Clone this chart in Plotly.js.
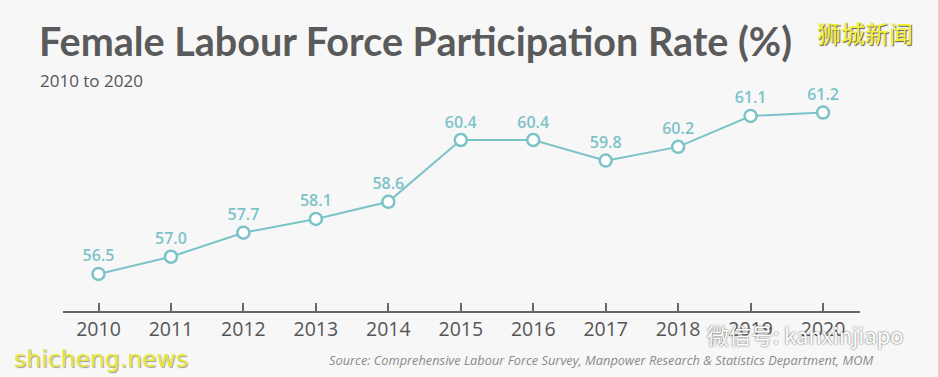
<!DOCTYPE html>
<html><head><meta charset="utf-8">
<script src="https://cdn.plot.ly/plotly-3.0.1.min.js"></script>
<style>html,body{margin:0;padding:0;background:#f7f7f8;}#chart{width:938px;height:377px;}</style>
</head><body><div id="chart"></div>
<script>
const years = [2010, 2011, 2012, 2013, 2014, 2015, 2016, 2017, 2018, 2019, 2020];
const rates = [56.5, 57.0, 57.7, 58.1, 58.6, 60.4, 60.4, 59.8, 60.2, 61.1, 61.2];
const tickLabels = years.map(String);
const titleText = "Female Labour Force Participation Rate (%)";
const subtitleText = "2010 to 2020";
const sourceText = "Source: Comprehensive Labour Force Survey, Manpower Research & Statistics Department, MOM";

const teal = "#7cc3c7";
const trace = {
  x: years, y: rates, type: "scatter", mode: "lines+markers+text",
  line: {color: teal, width: 2},
  marker: {symbol: "circle", size: 12, color: "#ffffff", line: {color: teal, width: 2.5}},
  text: rates.map(v => v.toFixed(1)), textposition: "top center",
  textfont: {family: "Open Sans, sans-serif", size: 16, color: teal, weight: 600},
  cliponaxis: false, hoverinfo: "skip"
};
const layout = {
  width: 938, height: 377,
  paper_bgcolor: "#f7f7f8", plot_bgcolor: "#f7f7f8",
  margin: {l: 63, r: 78, t: 60, b: 66},
  showlegend: false,
  xaxis: {range: [2009.51, 2020.51], tickvals: years, ticktext: tickLabels,
    ticks: "inside", ticklen: 8, tickwidth: 2, tickcolor: "#666",
    showline: true, linecolor: "#666", linewidth: 2, showgrid: false, zeroline: false,
    tickfont: {family: "Open Sans, sans-serif", size: 19.5, color: "#555"}},
  yaxis: {range: [55.42, 62.73], visible: false, showgrid: false, zeroline: false},
  annotations: [
    {text: titleText, xref: "paper", yref: "paper", x: -0.033, y: 1.078, xanchor: "left", yanchor: "middle",
      showarrow: false, font: {family: "Lato, sans-serif", size: 39.5, color: "#5a5a5a", weight: 700}},
    {text: subtitleText, xref: "paper", yref: "paper", x: -0.031, y: 0.92, xanchor: "left", yanchor: "middle",
      showarrow: false, font: {family: "Open Sans, sans-serif", size: 17, color: "#555"}},
    {text: sourceText, xref: "paper", yref: "paper", x: 1.0, y: -0.195, xanchor: "right", yanchor: "middle",
      xshift: 16, showarrow: false, font: {family: "Open Sans, sans-serif", size: 12.8, color: "#8a8a8a", style: "italic"}},
    {text: "狮城新闻", xref: "paper", yref: "paper", x: 0.944, y: 1.108, xanchor: "left", yanchor: "middle",
      showarrow: false, font: {family: "Noto Sans CJK SC", size: 24, color: "#f2f230", shadow: "1px 1px 1px #555"}},
    {text: "shicheng.news", xref: "paper", yref: "paper", x: -0.064, y: -0.19, xanchor: "left", yanchor: "middle",
      showarrow: false, font: {family: "DejaVu Sans", size: 23.5, color: "#e8e83a", shadow: "1px 1px 1px #999"}},
    {text: "微信号: kanxinjiapo", xref: "paper", yref: "paper", x: 0.805, y: -0.092, xanchor: "left", yanchor: "middle",
      showarrow: false, font: {family: "Noto Sans CJK SC", size: 22, color: "#ffffff", shadow: "0px 0px 2px #444"}}
  ]
};
Plotly.newPlot("chart", [trace], layout, {displayModeBar: false, staticPlot: true});
</script></body></html>
